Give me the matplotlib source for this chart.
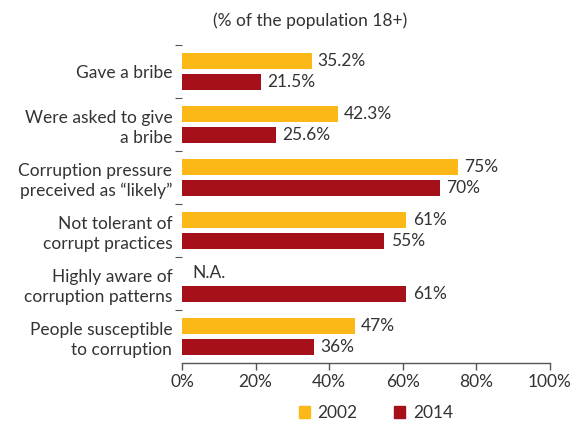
import matplotlib
matplotlib.use('Agg')
from matplotlib import pyplot as plt
from matplotlib.patches import Patch
import numpy as np

categories = ['Gave a bribe',
              'Were asked to give\na bribe',
              'Corruption pressure\npreceived as \u201clikely\u201d',
              'Not tolerant of\ncorrupt practices',
              'Highly aware of\ncorruption patterns',
              'People susceptible\nto corruption']
vals_2002 = [35.2, 42.3, 75, 61, None, 47]
vals_2014 = [21.5, 25.6, 70, 55, 61, 36]
labels_2002 = ['35.2%', '42.3%', '75%', '61%', 'N.A.', '47%']
labels_2014 = ['21.5%', '25.6%', '70%', '55%', '61%', '36%']
xticks = [0, 20, 40, 60, 80, 100]

yellow = '#FBB817'
red = '#A6101B'
txt = '#333333'
fs = 12.5

plt.rcParams['font.family'] = ['Lato', 'DejaVu Sans']
plt.rcParams['font.size'] = fs

fig = plt.figure(figsize=(5.79, 4.21), dpi=100)
ax = fig.add_axes([182/579, 1-363/421, (550-182)/579, (363-45)/421])

y = np.arange(len(categories))
off = 0.19
h = 0.30

for i in range(len(categories)):
    v = vals_2002[i]
    if v is not None:
        ax.barh(y[i] - off, v, height=h, color=yellow)
        ax.annotate(labels_2002[i], (v, y[i] - off), xytext=(4.5, 0), textcoords='offset points',
                    va='center', ha='left', color=txt, fontsize=fs)
    else:
        ax.annotate(labels_2002[i], (0, y[i] - off), xytext=(7.5, 0), textcoords='offset points',
                    va='center', ha='left', color=txt, fontsize=fs)
    v = vals_2014[i]
    ax.barh(y[i] + off, v, height=h, color=red)
    ax.annotate(labels_2014[i], (v, y[i] + off), xytext=(4.5, 0), textcoords='offset points',
                va='center', ha='left', color=txt, fontsize=fs)

ax.set_xlim(0, 100)
ax.set_ylim(len(categories) - 0.5, -0.5)

ax.set_yticks(y)
ax.set_yticklabels(categories, linespacing=1.3, color=txt)
ax.set_yticks(np.arange(-0.5, len(categories) - 0.5, 1), minor=True)
ax.tick_params(axis='y', which='major', length=0, pad=7)
ax.tick_params(axis='y', which='minor', length=5, width=0.8, color='#555555')

ax.set_xticks(xticks)
ax.set_xticklabels([f'{t}%' for t in xticks], color=txt)
ax.tick_params(axis='x', length=5, width=1, color='#555555', pad=3)

for s in ['top', 'right', 'left']:
    ax.spines[s].set_visible(False)
ax.spines['bottom'].set_color('#555555')
ax.spines['bottom'].set_linewidth(1)

fig.text(310/579, 1-21/421, '(% of the population 18+)', ha='center', va='center',
         color=txt, fontsize=fs)

handles = [Patch(color=yellow, label='2002'), Patch(color=red, label='2014')]
fig.legend(handles=handles, loc='center', bbox_to_anchor=(376/579, 1-413/421), ncol=2,
           frameon=False, handlelength=0.65, handleheight=0.65, handletextpad=0.45,
           columnspacing=2.1, fontsize=fs, labelcolor=txt, borderpad=0)

fig.savefig('out.png', dpi=100)
